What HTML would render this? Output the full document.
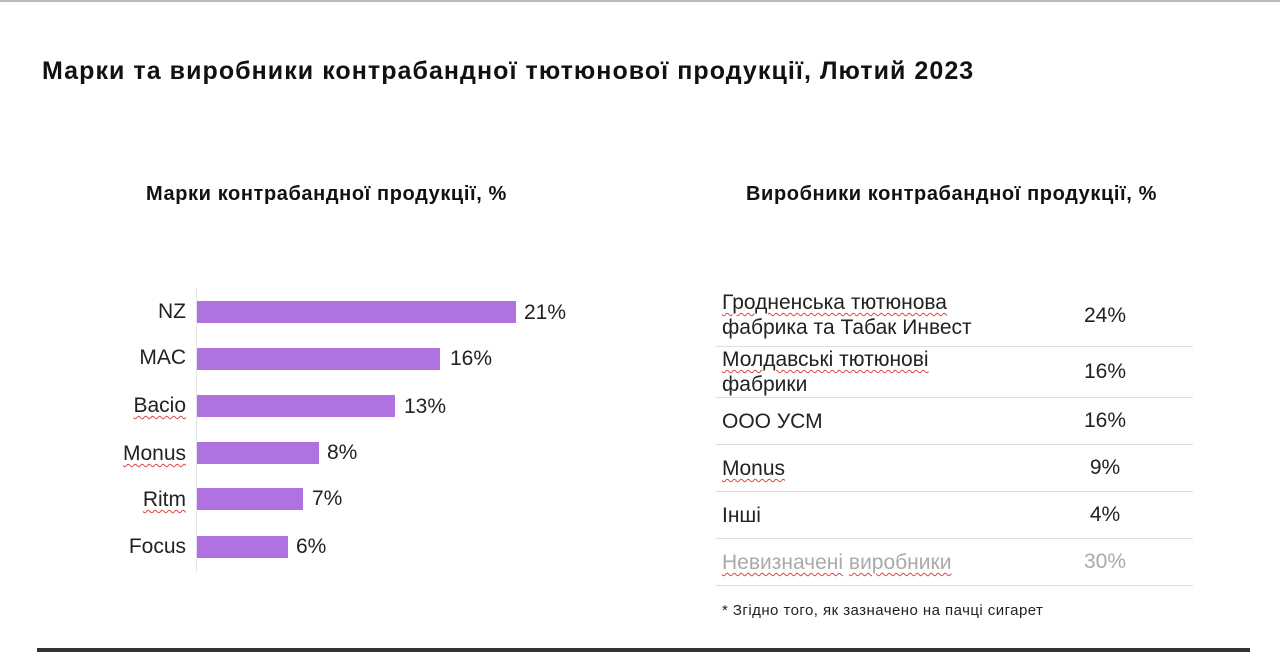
<!DOCTYPE html><html><head><meta charset="utf-8"><style>
body{margin:0;width:1280px;height:665px;background:#fff;position:relative;overflow:hidden;font-family:"Liberation Sans",Arial,sans-serif;color:#222}
.a{position:absolute;white-space:nowrap}
.bar{position:absolute;left:197px;height:22px;background:#b072e0}
.lab{position:absolute;right:1094px;font-size:21px;line-height:22px;white-space:nowrap}
.val{position:absolute;font-size:21px;line-height:22px}
.ln{position:absolute;left:716px;width:477px;height:1px;background:#ddd}
.t{position:absolute;left:722px;font-size:21px;line-height:25px;white-space:nowrap}
.p{position:absolute;left:1060px;width:90px;text-align:center;font-size:21px;line-height:22px}
.sp{text-decoration:underline wavy #d44;text-decoration-thickness:1px;text-underline-offset:3px}
</style></head><body>
<div class="a" style="left:0;top:0;width:1280px;height:2px;background:#bbb"></div>
<div class="a" style="left:42px;top:57px;font-size:25px;letter-spacing:1.05px;font-weight:bold;color:#111">Марки та виробники контрабандної тютюнової продукції, Лютий 2023</div>
<div class="a" style="left:146px;top:183px;font-size:20px;letter-spacing:0.6px;font-weight:bold;color:#111">Марки контрабандної продукції, %</div>
<div class="a" style="left:746px;top:183px;font-size:20px;letter-spacing:0.6px;font-weight:bold;color:#111">Виробники контрабандної продукції, %</div>
<div class="a" style="left:196px;top:288px;width:1px;height:284px;background:#e4e4e4"></div>
<div class="bar" style="top:301px;width:319px"></div><div class="lab" style="top:301px">NZ</div><div class="val" style="left:524px;top:302px">21%</div>
<div class="bar" style="top:348px;width:243px"></div><div class="lab" style="top:347px">MAC</div><div class="val" style="left:450px;top:348px">16%</div>
<div class="bar" style="top:395px;width:198px"></div><div class="lab" style="top:395px"><span class="sp">Bacio</span></div><div class="val" style="left:404px;top:396px">13%</div>
<div class="bar" style="top:442px;width:122px"></div><div class="lab" style="top:443px"><span class="sp">Monus</span></div><div class="val" style="left:327px;top:442px">8%</div>
<div class="bar" style="top:488px;width:106px"></div><div class="lab" style="top:489px"><span class="sp">Ritm</span></div><div class="val" style="left:312px;top:488px">7%</div>
<div class="bar" style="top:536px;width:91px"></div><div class="lab" style="top:536px">Focus</div><div class="val" style="left:296px;top:536px">6%</div>
<div class="t" style="top:290px"><span class="sp">Гродненська тютюнова</span><br>фабрика та Табак Инвест</div><div class="p" style="top:305px">24%</div>
<div class="ln" style="top:346px"></div>
<div class="t" style="top:347px"><span class="sp">Молдавські тютюнові</span><br>фабрики</div><div class="p" style="top:361px">16%</div>
<div class="ln" style="top:397px"></div>
<div class="t" style="top:409px">ООО УСМ</div><div class="p" style="top:410px">16%</div>
<div class="ln" style="top:444px"></div>
<div class="t" style="top:456px"><span class="sp">Monus</span></div><div class="p" style="top:457px">9%</div>
<div class="ln" style="top:491px"></div>
<div class="t" style="top:503px">Інші</div><div class="p" style="top:504px">4%</div>
<div class="ln" style="top:538px"></div>
<div class="t" style="top:550px;color:#aaa"><span class="sp">Невизначені</span> <span class="sp">виробники</span></div><div class="p" style="top:551px;color:#aaa">30%</div>
<div class="ln" style="top:585px"></div>
<div class="a" style="left:722px;top:602px;font-size:15px;letter-spacing:0.45px;color:#222">* Згідно того, як зазначено на пачці сигарет</div>
<div class="a" style="left:37px;top:648px;width:1213px;height:4px;background:#333"></div>
</body></html>
